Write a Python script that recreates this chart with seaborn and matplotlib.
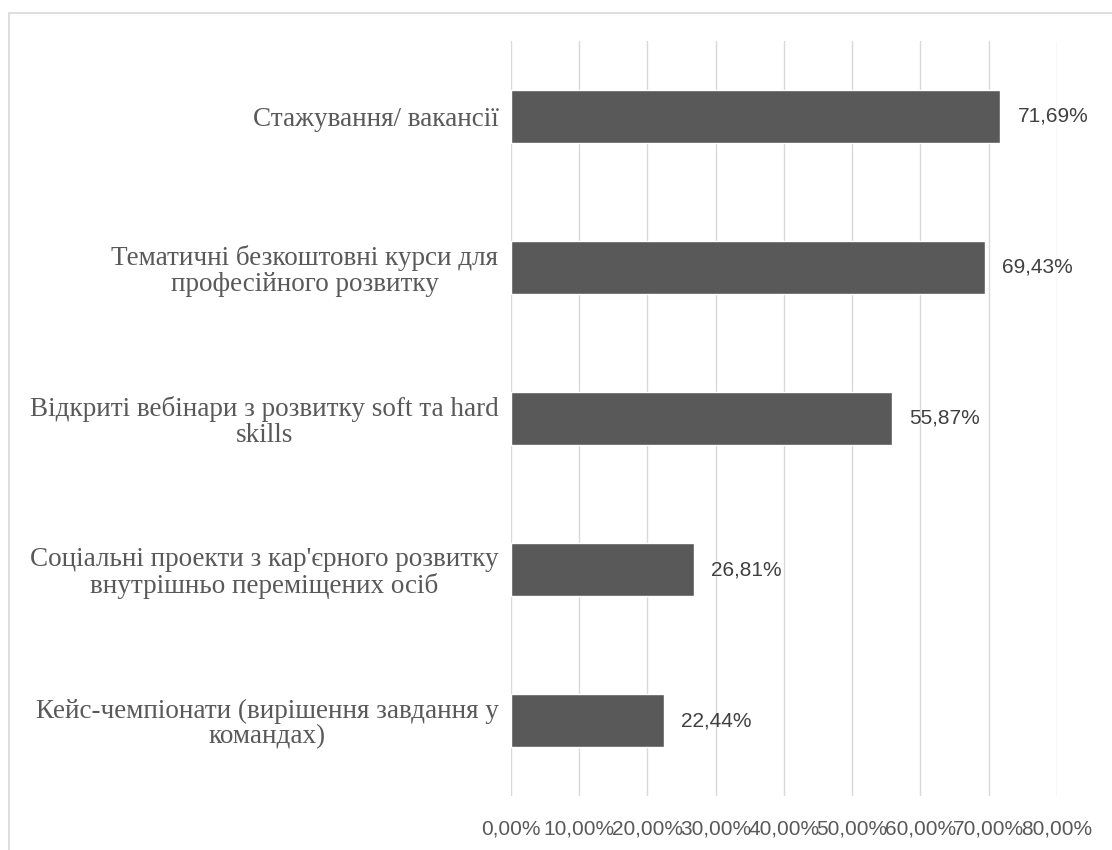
import matplotlib
matplotlib.use("Agg")
import matplotlib.pyplot as plt
from matplotlib.patches import Rectangle
from matplotlib.ticker import FuncFormatter
import seaborn as sns
import pandas as pd

categories = [
    "Стажування/ вакансії",
    "Тематичні безкоштовні курси для\nпрофесійного розвитку",
    "Відкриті вебінари з розвитку soft та hard\nskills",
    "Соціальні проекти з кар'єрного розвитку\nвнутрішньо переміщених осіб",
    "Кейс-чемпіонати (вирішення завдання у\nкомандах)",
]
shares = [0.7169, 0.6943, 0.5587, 0.2681, 0.2244]
x_ticks = [0.0, 0.1, 0.2, 0.3, 0.4, 0.5, 0.6, 0.7, 0.8]

df = pd.DataFrame({"category": categories, "share": shares})

sns.set_theme(style="white")
sans = ["Liberation Sans Narrow", "Liberation Sans", "DejaVu Sans"]
serif = ["Liberation Serif", "DejaVu Serif"]

fig = plt.figure(figsize=(11.12, 8.5), dpi=100)
ax = fig.add_axes([0.4595, 0.0635, 0.9505 - 0.4595, 0.9518 - 0.0635])

sns.barplot(data=df, x="share", y="category", orient="h", color="#595959",
            saturation=1, width=0.35, ax=ax, zorder=3)

ax.set_xlim(0, 0.8)
ax.set_ylim(4.5, -0.5)
ax.set_xticks(x_ticks)
ax.xaxis.set_major_formatter(FuncFormatter(lambda v, p: f"{v * 100:.2f}%".replace(".", ",")))
ax.grid(axis="x", color="#d9d9d9", linewidth=1.0, zorder=0)
ax.grid(axis="y", visible=False)
for s in ax.spines.values():
    s.set_visible(False)
ax.set_xlabel("")
ax.set_ylabel("")
ax.tick_params(axis="x", length=0, pad=17, labelcolor="#595959")
ax.tick_params(axis="y", length=0, pad=9, labelcolor="#595959")
for lbl in ax.get_xticklabels():
    lbl.set_family(sans)
    lbl.set_fontsize(15)
for lbl in ax.get_yticklabels():
    lbl.set_family(serif)
    lbl.set_fontsize(19.5)
    lbl.set_multialignment("center")
    lbl.set_linespacing(1.05)

for i, v in enumerate(shares):
    ax.annotate(f"{v * 100:.2f}%".replace(".", ","), xy=(v, i), xytext=(12.5, 0),
                textcoords="offset points", ha="left", va="center",
                fontsize=15, family=sans, color="#404040")

top = 1 - 12.5 / 850
fig.patches.append(Rectangle((8.5 / 1112, -0.2), 1.2, top + 0.2,
                             transform=fig.transFigure, fill=False,
                             edgecolor="#d9d9d9", linewidth=1.2))

fig.savefig("out.png", dpi=100, facecolor="white")
